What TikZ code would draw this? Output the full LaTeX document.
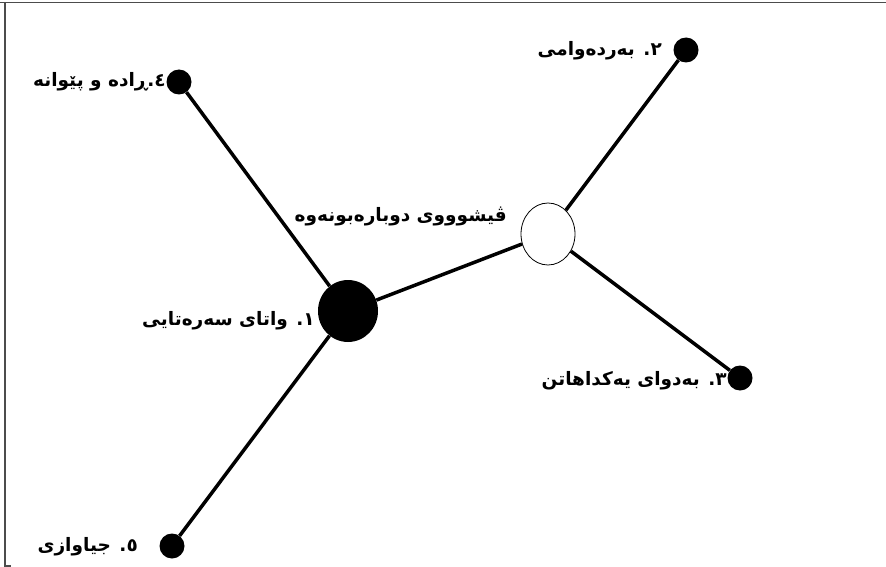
\documentclass[tikz,border=0pt]{standalone}
\usepackage{fontspec}
\usetikzlibrary{shapes.geometric}
\newfontfamily\arabicfont[Script=Arabic]{DejaVu Sans}
\TeXXeTstate=1
\begin{document}
\begin{tikzpicture}[x=1pt,y=-1pt,
  lbl/.style={anchor=east,inner sep=0pt,font=\arabicfont\bfseries\fontsize{18.5}{20}\selectfont},
  leaf/.style={circle,fill=black,minimum size=25pt,inner sep=0pt},
  link/.style={line width=3.5pt}]
\useasboundingbox (0,0) rectangle (886,567);
\draw[line width=1.5pt,gray!60!black] (0,2.5) -- (886,2.5);
\draw[line width=1.5pt,gray!60!black] (5,2.5) -- (5,566) -- (11,566);
\node[ellipse,fill=black,minimum width=60pt,minimum height=62pt,inner sep=0pt] (main) at (348,311) {};
\node[ellipse,draw=black,line width=0.8pt,fill=white,minimum width=54pt,minimum height=62pt,inner sep=0pt] (hub) at (548,234) {};
\node[leaf] (d4) at (179,82) {};
\node[leaf] (d2) at (686,50) {};
\node[leaf] (d3) at (740,378) {};
\node[leaf] (d5) at (172,546) {};
\draw[link] (d4) -- (main);
\draw[link] (main) -- (d5);
\draw[link] (main) -- (hub);
\draw[link] (hub) -- (d2);
\draw[link] (hub) -- (d3);
\node[lbl] (t4) at (166,82) {\beginR ٤.ڕادە و پێوانە\endR};
\node[lbl] (t2) at (662,51) {\beginR ٢. بەردەوامی\endR};
\node[lbl] (th) at (507,216) {\beginR ڤیشوووی دوبارەبونەوە\endR};
\node[lbl] (t1) at (315,321) {\beginR ١. واتای سەرەتایی\endR};
\node[lbl] (t3) at (727,381) {\beginR ٣. بەدوای یەکداهاتن\endR};
\node[lbl] (t5) at (138,547) {\beginR ٥. جیاوازی\endR};
\end{tikzpicture}
\end{document}
